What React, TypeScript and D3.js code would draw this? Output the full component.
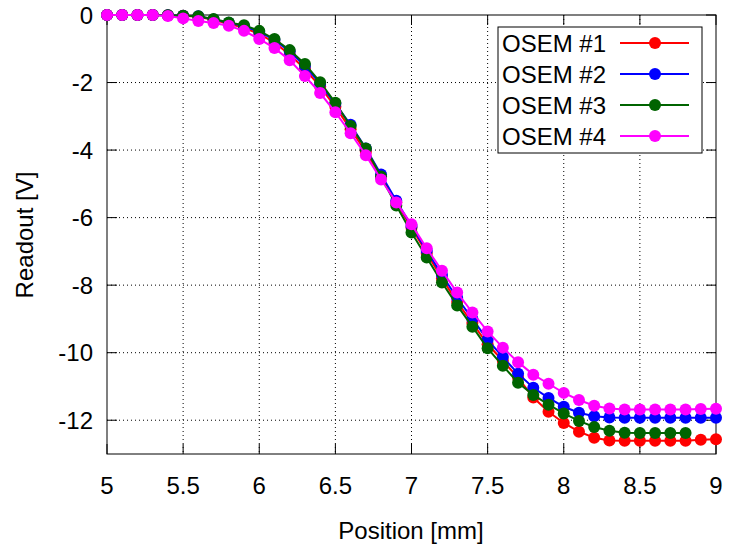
import React from "react";
import * as d3 from "d3";

const positions = [5.0,5.1,5.2,5.3,5.4,5.5,5.6,5.7,5.8,5.9,6.0,6.1,6.2,6.3,6.4,6.5,6.6,6.7,6.8,6.9,7.0,7.1,7.2,7.3,7.4,7.5,7.6,7.7,7.8,7.9,8.0,8.1,8.2,8.3,8.4,8.5,8.6,8.7,8.8,8.9,9.0];

const osem1 = [0,0,0,0,-0.01,-0.02,-0.05,-0.15,-0.26,-0.38,-0.56,-0.82,-1.17,-1.6,-2.12,-2.72,-3.38,-4.05,-4.8,-5.55,-6.3,-7.05,-7.8,-8.5,-9.12,-9.75,-10.24,-10.74,-11.33,-11.75,-12.08,-12.34,-12.52,-12.6,-12.61,-12.61,-12.61,-12.61,-12.61,-12.58,-12.56];
const osem2 = [0,0,0,0,-0.01,-0.02,-0.04,-0.13,-0.23,-0.33,-0.5,-0.74,-1.08,-1.5,-2.04,-2.63,-3.25,-3.95,-4.72,-5.5,-6.25,-6.98,-7.7,-8.38,-9.0,-9.62,-10.13,-10.62,-11.04,-11.34,-11.6,-11.78,-11.88,-11.92,-11.93,-11.93,-11.93,-11.93,-11.93,-11.93,-11.93];
const osem3 = [0,0,0,0,-0.01,-0.02,-0.04,-0.12,-0.22,-0.3,-0.47,-0.71,-1.04,-1.45,-1.99,-2.6,-3.29,-3.95,-4.78,-5.64,-6.44,-7.18,-7.92,-8.6,-9.23,-9.87,-10.39,-10.89,-11.25,-11.54,-11.8,-12.02,-12.2,-12.31,-12.37,-12.38,-12.38,-12.38,-12.38];
const osem4 = [0,0,0,0,-0.03,-0.1,-0.18,-0.24,-0.32,-0.47,-0.71,-0.98,-1.34,-1.81,-2.31,-2.88,-3.5,-4.15,-4.87,-5.55,-6.2,-6.91,-7.57,-8.22,-8.81,-9.37,-9.85,-10.28,-10.65,-10.92,-11.19,-11.4,-11.57,-11.65,-11.68,-11.68,-11.68,-11.68,-11.68,-11.67,-11.66];

const seriesNames = ["OSEM #1", "OSEM #2", "OSEM #3", "OSEM #4"];
const seriesValues = [osem1, osem2, osem3, osem4];
const seriesColors = ["#ff0000", "#0000ff", "#006400", "#ff00ff"];

const xTicks = [5, 5.5, 6, 6.5, 7, 7.5, 8, 8.5, 9];
const yTicks = [0, -2, -4, -6, -8, -10, -12];

const W = 730, H = 550;
const L = 107, R = 716, T = 15, B = 454;
const FONT = "'Liberation Sans', Arial, sans-serif";

export default function App() {
  const x = d3.scaleLinear().domain([5, 9]).range([L, R]);
  const y = d3.scaleLinear().domain([-13, 0]).range([B, T]);
  const line = d3.line<[number, number]>().x(d => x(d[0])).y(d => y(d[1]));
  const fs = 24;
  const legX = 498, legY = 27, legW = 204, legH = 126;
  const rowY = [43, 74, 105, 136];

  return (
    <svg width={W} height={H} style={{ position: "absolute", left: 0, top: 0, background: "#fff" }}>
      <rect x={0} y={0} width={W} height={H} fill="#fff" />
      {xTicks.slice(1, -1).map(t => (
        <line key={"gx" + t} x1={x(t)} x2={x(t)} y1={T} y2={B} stroke="#000" strokeWidth={1} strokeDasharray="1,3" />
      ))}
      {yTicks.slice(1).map(t => (
        <line key={"gy" + t} x1={L} x2={R} y1={y(t)} y2={y(t)} stroke="#000" strokeWidth={1} strokeDasharray="1,3" />
      ))}
      {xTicks.map(t => (
        <g key={"tx" + t}>
          <line x1={x(t)} x2={x(t)} y1={B} y2={B - 10} stroke="#000" />
          <line x1={x(t)} x2={x(t)} y1={T} y2={T + 10} stroke="#000" />
          <text x={x(t)} y={494} textAnchor="middle" fontFamily={FONT} fontSize={fs}>{t}</text>
        </g>
      ))}
      {yTicks.map(t => (
        <g key={"ty" + t}>
          <line x1={L} x2={L + 10} y1={y(t)} y2={y(t)} stroke="#000" />
          <line x1={R} x2={R - 10} y1={y(t)} y2={y(t)} stroke="#000" />
          <text x={93} y={y(t) + 8.5} textAnchor="end" fontFamily={FONT} fontSize={fs}>{t}</text>
        </g>
      ))}
      <rect x={L} y={T} width={R - L} height={B - T} fill="none" stroke="#000" strokeWidth={1} />
      {seriesValues.map((vals, i) => {
        const pts: [number, number][] = vals.map((v, j) => [positions[j], v]);
        return (
          <g key={"s" + i}>
            <path d={line(pts) || ""} fill="none" stroke={seriesColors[i]} strokeWidth={2} />
            {pts.map((p, j) => (
              <circle key={j} cx={x(p[0])} cy={y(p[1])} r={6} fill={seriesColors[i]} />
            ))}
          </g>
        );
      })}
      <rect x={legX} y={legY} width={legW} height={legH} fill="#fff" stroke="#000" strokeWidth={1} />
      {seriesNames.map((n, i) => (
        <g key={"l" + i}>
          <text x={502} y={rowY[i] + 8.5} fontFamily={FONT} fontSize={fs}>{n}</text>
          <line x1={620} x2={689} y1={rowY[i]} y2={rowY[i]} stroke={seriesColors[i]} strokeWidth={2} />
          <circle cx={655} cy={rowY[i]} r={6} fill={seriesColors[i]} />
        </g>
      ))}
      <text x={411} y={539} textAnchor="middle" fontFamily={FONT} fontSize={fs}>Position [mm]</text>
      <text transform="translate(33,235) rotate(-90)" textAnchor="middle" fontFamily={FONT} fontSize={fs}>Readout [V]</text>
    </svg>
  );
}
